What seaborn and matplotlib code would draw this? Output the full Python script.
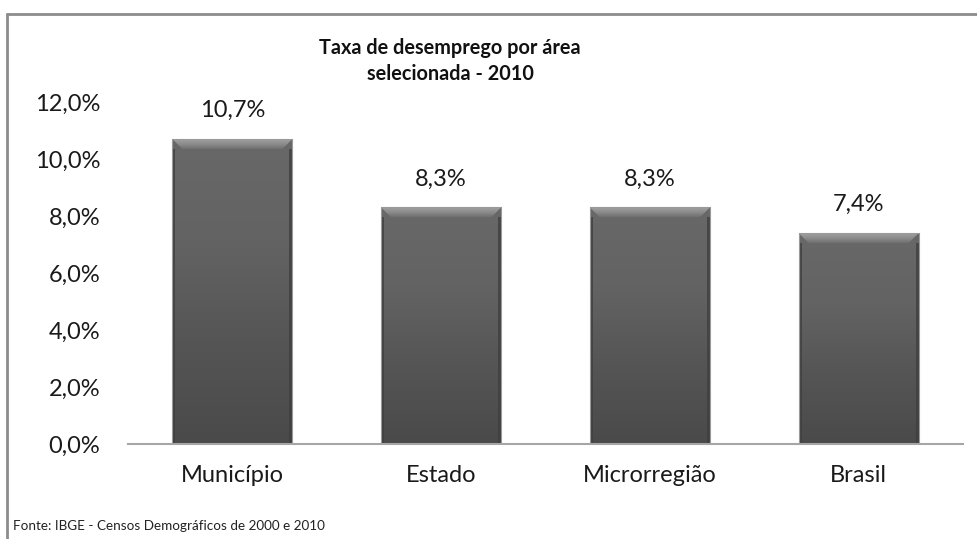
import numpy as np
import matplotlib.pyplot as plt
import seaborn as sns
from matplotlib.colors import LinearSegmentedColormap
from matplotlib.patches import Polygon
from matplotlib.lines import Line2D

# Dados
areas = ["Município", "Estado", "Microrregião", "Brasil"]
taxas = [10.7, 8.3, 8.3, 7.4]
rotulos = ["10,7%", "8,3%", "8,3%", "7,4%"]
y_ticks = [0, 2, 4, 6, 8, 10, 12]
y_labels = ["0,0%", "2,0%", "4,0%", "6,0%", "8,0%", "10,0%", "12,0%"]

sns.set_theme(style="white")
plt.rcParams['font.family'] = ['Lato', 'DejaVu Sans']

W, H = 978, 539
fig = plt.figure(figsize=(W / 100, H / 100), dpi=100)
ax = fig.add_axes([128 / W, 1 - 444 / H, (963 - 128) / W, (444 - 102) / H])

sns.barplot(x=areas, y=taxas, color="#5c5c5c", saturation=1, width=0.575, ax=ax)

ax.set_ylim(0, 12)
ax.set_xlim(-0.5, 3.5)

# vertical gradient + bevel on each bar
px_x = (963 - 128) / 4.0     # pixels per category
px_y = (444 - 102) / 12.0    # pixels per unit
grad = LinearSegmentedColormap.from_list("g", ["#4a4a4a", "#555555", "#636363", "#686868"])
bev = LinearSegmentedColormap.from_list("b", ["#707070", "#8c8c8c", "#a0a0a0"])
for p in ax.patches:
    x0, w, h = p.get_x(), p.get_width(), p.get_height()
    z = p.get_zorder()
    img = np.linspace(0, 1, 200).reshape(-1, 1)
    im = ax.imshow(img, cmap=grad, origin="lower", extent=[x0, x0 + w, 0, h],
                   aspect="auto", zorder=z + 0.1)
    im.set_clip_path(p)
    dx, dy = 10 / px_x, 10 / px_y
    top = Polygon([[x0, h], [x0 + w, h], [x0 + w - dx, h - dy], [x0 + dx, h - dy]],
                  closed=True, facecolor="none", edgecolor="none", zorder=z + 0.2)
    ax.add_patch(top)
    bimg = np.linspace(0, 1, 50).reshape(-1, 1)
    bi = ax.imshow(bimg, cmap=bev, origin="lower", extent=[x0, x0 + w, h - dy, h],
                   aspect="auto", zorder=z + 0.2)
    bi.set_clip_path(top)
    sx = 3 / px_x
    for a, b in [(x0, x0 + sx), (x0 + w - sx, x0 + w)]:
        side = Polygon([[a, h - dy], [b, h - dy], [b, 0], [a, 0]], closed=True,
                       facecolor="#3f3f3f", edgecolor="none", alpha=0.8, zorder=z + 0.2)
        ax.add_patch(side)
    p.set_edgecolor("#9a9a9a")
    p.set_linewidth(0.8)
    p.set_zorder(z + 0.3)
    p.set_facecolor("none")

ax.set_xlim(-0.5, 3.5)
ax.set_ylim(0, 12)

ax.bar_label(ax.containers[0], labels=rotulos, padding=13, fontsize=17, color="#1a1a1a")

ax.set_yticks(y_ticks)
ax.set_yticklabels(y_labels)
ax.tick_params(axis="y", length=0, pad=20, labelsize=17, labelcolor="#1a1a1a")
ax.tick_params(axis="x", length=0, pad=15, labelsize=17, labelcolor="#1a1a1a")
ax.set_xlabel("")
ax.set_ylabel("")
for s in ["left", "top", "right"]:
    ax.spines[s].set_visible(False)
ax.spines["bottom"].set_color("#a6a6a6")
ax.spines["bottom"].set_linewidth(1.5)
ax.spines["bottom"].set_zorder(5)

fig.text(450 / W, 1 - 61 / H, "Taxa de desemprego por área\nselecionada - 2010",
         ha="center", va="center", fontsize=14.3, fontweight="bold", linespacing=1.4, color="#111111")
fig.text(13 / W, 1 - 526 / H, "Fonte: IBGE - Censos Demográficos de 2000 e 2010",
         ha="left", va="center", fontsize=9.7, color="#222222")

# chart frame
fig.add_artist(Line2D([7 / W, 7 / W], [0, 1 - 14 / H], transform=fig.transFigure, color="#8c8c8c", lw=2))
fig.add_artist(Line2D([7 / W, 1], [1 - 14 / H, 1 - 14 / H], transform=fig.transFigure, color="#8c8c8c", lw=2))

fig.savefig("out.png", dpi=100)
